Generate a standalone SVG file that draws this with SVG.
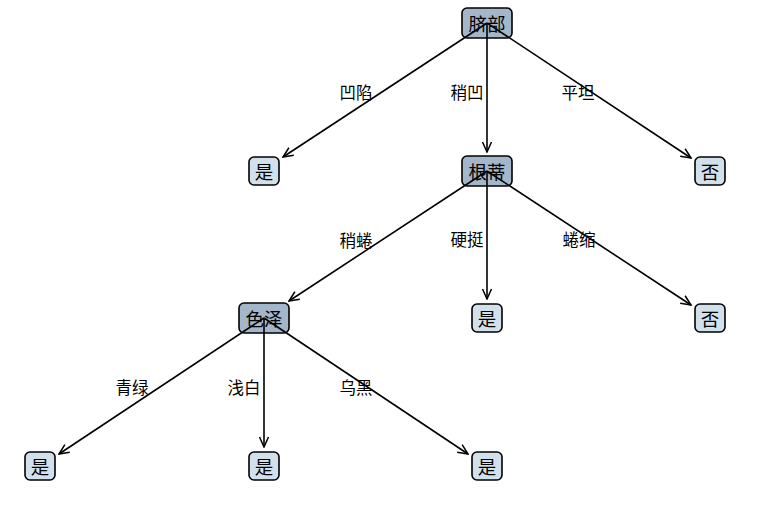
<svg xmlns="http://www.w3.org/2000/svg" width="773" height="514" viewBox="0 0 773 514">
<defs>
<marker id="arr" viewBox="0 0 12 12" refX="11" refY="6" markerWidth="12" markerHeight="12" markerUnits="userSpaceOnUse" orient="auto">
<path d="M1,1.5 L11,6 L1,10.5" fill="none" stroke="#000" stroke-width="1.5"/>
</marker>
<style>
.dec{fill:#a3b6ca;stroke:#000;stroke-width:1.6}
.leaf{fill:#d1e1eb;stroke:#000;stroke-width:1.6}
.nt{font-family:"Noto Sans CJK SC",sans-serif;font-size:18.5px;text-anchor:middle;dominant-baseline:central;fill:#000}
.el{font-family:"Noto Sans CJK SC",sans-serif;font-size:16.5px;text-anchor:middle;dominant-baseline:central;fill:#000}
.c{stroke:#000;stroke-width:1.6;fill:none;marker-end:url(#arr)}
</style>
</defs>
<g id="n_qibu"><rect class="dec" x="462" y="8" width="50" height="30" rx="5"/><text class="nt" x="487" y="23">脐部</text></g>
<g id="n_shi1"><rect class="leaf" x="249" y="157" width="30" height="28" rx="5"/><text class="nt" x="264" y="171">是</text></g>
<g id="n_gendi"><rect class="dec" x="462" y="156" width="50" height="30" rx="5"/><text class="nt" x="487" y="171">根蒂</text></g>
<g id="n_fou1"><rect class="leaf" x="695" y="157" width="30" height="28" rx="5"/><text class="nt" x="710" y="171">否</text></g>
<g id="n_seze"><rect class="dec" x="239" y="303" width="50" height="30" rx="5"/><text class="nt" x="264" y="318">色泽</text></g>
<g id="n_shi2"><rect class="leaf" x="472" y="304" width="30" height="28" rx="5"/><text class="nt" x="487" y="318">是</text></g>
<g id="n_fou2"><rect class="leaf" x="695" y="304" width="30" height="28" rx="5"/><text class="nt" x="710" y="318">否</text></g>
<g id="n_shi3"><rect class="leaf" x="25" y="452" width="30" height="28" rx="5"/><text class="nt" x="40" y="466">是</text></g>
<g id="n_shi4"><rect class="leaf" x="249" y="452" width="30" height="28" rx="5"/><text class="nt" x="264" y="466">是</text></g>
<g id="n_shi5"><rect class="leaf" x="472" y="452" width="30" height="28" rx="5"/><text class="nt" x="487" y="466">是</text></g>
<g id="connectors">
<line class="c" x1="487" y1="23" x2="283" y2="157"/>
<line class="c" x1="487" y1="23" x2="487" y2="152"/>
<line class="c" x1="487" y1="23" x2="691" y2="158"/>
<line class="c" x1="487" y1="171" x2="289" y2="301"/>
<line class="c" x1="487" y1="171" x2="487" y2="299"/>
<line class="c" x1="487" y1="171" x2="691" y2="305"/>
<line class="c" x1="264" y1="318" x2="59" y2="454"/>
<line class="c" x1="264" y1="318" x2="264" y2="447"/>
<line class="c" x1="264" y1="318" x2="468" y2="454"/>
<text class="el" x="356" y="92">凹陷</text>
<text class="el" x="467" y="92">稍凹</text>
<text class="el" x="578" y="92">平坦</text>
<text class="el" x="356" y="240">稍蜷</text>
<text class="el" x="467" y="239">硬挺</text>
<text class="el" x="579" y="239">蜷缩</text>
<text class="el" x="132" y="387">青绿</text>
<text class="el" x="244" y="387">浅白</text>
<text class="el" x="356" y="387">乌黑</text>
</g>
</svg>
